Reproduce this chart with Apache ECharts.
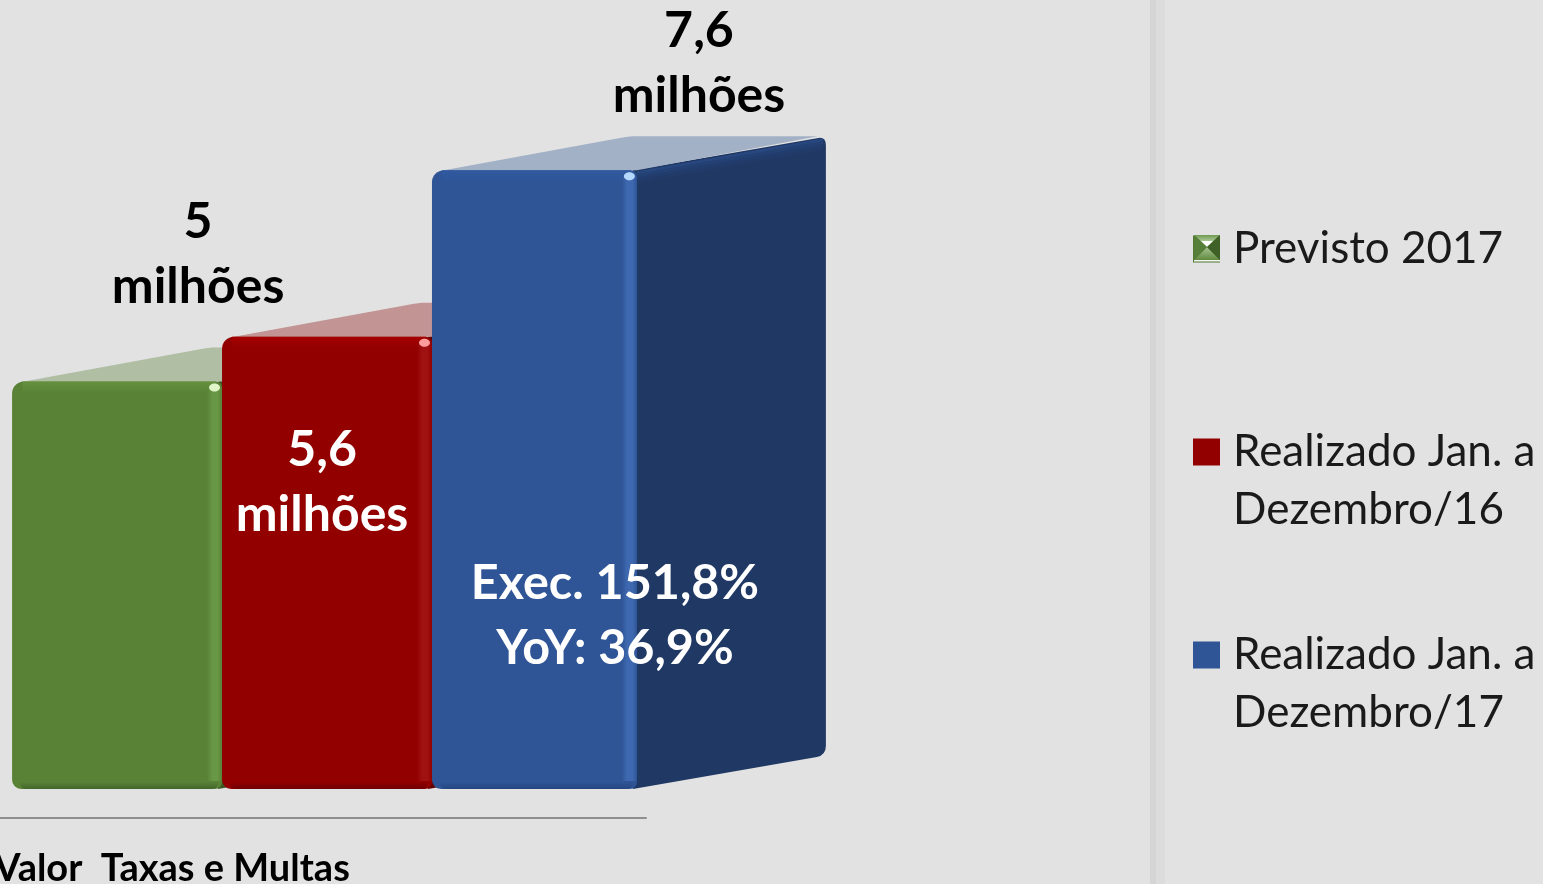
<!DOCTYPE html>
<html><head><meta charset="utf-8">
<style>html,body{margin:0;padding:0;background:#e2e2e2;overflow:hidden}#c{width:1543px;height:884px}</style>
<script src="https://cdn.jsdelivr.net/npm/echarts@6/dist/echarts.min.js"></script>
</head><body><div id="c"></div>
<script>
const categories = ['Valor  Taxas e Multas'];
const seriesNames = ['Previsto 2017', 'Realizado Jan. a\nDezembro/16', 'Realizado Jan. a\nDezembro/17'];
const previsto2017 = [5];
const realizado2016 = [5.55];
const realizado2017 = [7.6];
const valueLabels = ['5\nmilhões', '5,6\nmilhões', '7,6\nmilhões'];
const execLabel = 'Exec. 151,8%\nYoY: 36,9%';

const FONT = 'Lato, "Open Sans", sans-serif';
const palette = [
  {front:'#5a8237', strip:'#689745', edge:'#63903e', top:'#b0bea4', side:'#3c5724', glow:'#e0f5c8', foot:'#44652a'},
  {front:'#920000', strip:'#a01212', edge:'#a60000', top:'#c29494', side:'#600000', glow:'#ff9c9c', foot:'#700000'},
  {front:'#2f5597', strip:'#3e69b0', edge:'#3059a0', top:'#a3b1c6', side:'#203864', glow:'#b5d8ff', foot:'#264680'}
];
const DX = 189, DY = -34;

function vGrad(a, b) {
  return {type:'linear', x:0, y:0, x2:0, y2:1, colorStops:[{offset:0, color:a}, {offset:1, color:b}]};
}
function hGrad(a, b) {
  return {type:'linear', x:0, y:0, x2:1, y2:0, colorStops:[{offset:0, color:a}, {offset:0.35, color:b}, {offset:0.7, color:b}, {offset:1, color:a}]};
}
function roundedSide(x0, y0t, x1, y1t, y1b, x0b) {
  const r = 9;
  return 'M' + x0 + ' ' + y0t +
    'L' + (x1 - r) + ' ' + (y1t + 2) +
    'Q' + x1 + ' ' + y1t + ' ' + x1 + ' ' + (y1t + r) +
    'L' + x1 + ' ' + (y1b - r) +
    'Q' + x1 + ' ' + y1b + ' ' + (x1 - r) + ' ' + (y1b + 2) +
    'L' + x0b + ' ' + (y1b + 34) + 'Z';
}

function makeRender(idx) {
  return function (params, api) {
    const topPt = api.coord([0, api.value(1)]);
    const zero = api.coord([0, 0]);
    const band = api.size([1, 0])[0];
    const w = band * 0.325;
    const widths = [w, w, w * 0.976];
    const left = band / 2 + 4 + (idx - 1.5) * w;
    const right = left + widths[idx];
    const yT = topPt[1] - 1, yB = zero[1];
    const c = palette[idx];
    const children = [];
    children.push({type:'path', shape:{pathData: roundedSide(right - 4, yT, right + DX, yT + DY, yB + DY, right - 4)}, style:{fill:c.side}});
    [[1, 4, 0.5], [4, 7, 0.32], [7, 10, 0.18], [10, 13, 0.08]].forEach(function (b) {
      children.push({type:'polygon', shape:{points:[[right, yT + b[0]], [right + DX - 3, yT + DY + 1 + b[0]], [right + DX - 3, yT + DY + 1 + b[1]], [right, yT + b[1]]]},
        style:{fill:c.front, opacity:b[2]}});
    });
    children.push({type:'polygon', shape:{points:[[left + 12, yT], [left + 192, yT + DY + 1], [left + 200, yT + DY], [right + DX - 8, yT + DY], [right, yT]]}, style:{fill:c.top}});
    children.push({type:'rect', shape:{x:left, y:yT, width:widths[idx], height:yB - yT, r:[12, 6, 7, 9]}, style:{fill:c.front}});
    children.push({type:'rect', shape:{x:left + 10, y:yT, width:widths[idx] - 16, height:12}, style:{fill:vGrad(c.edge, c.front)}});
    children.push({type:'rect', shape:{x:left + 8, y:yB - 7, width:widths[idx] - 12, height:7, r:[0, 0, 6, 6]}, style:{fill:vGrad(c.front, c.foot)}});
    children.push({type:'rect', shape:{x:right - 15, y:yT + 6, width:15, height:yB - yT - 14}, style:{fill:hGrad(c.front, c.strip)}});
    children.push({type:'ellipse', shape:{cx:right - 7.5, cy:yT + 6, rx:5.5, ry:4}, style:{fill:c.glow}});
    const textBase = {fontFamily:FONT, fontWeight:'bold', fontSize:50, lineHeight:65, align:'center', verticalAlign:'middle'};
    const placements = [
      {x:left + 186, y:yT - 127, fill:'#000'},
      {x:left + 100, y:yT + 146, fill:'#fff'},
      {x:left + 267, y:yT - 107, fill:'#000'}
    ];
    children.push({type:'text', style:Object.assign({}, textBase, {text:valueLabels[idx], x:placements[idx].x, y:placements[idx].y, fill:placements[idx].fill})});
    if (idx === 2) {
      children.push({type:'text', style:Object.assign({}, textBase, {text:execLabel, fontSize:48.5, x:left + 183, y:yT + 446, fill:'#fff'})});
    }
    return {type:'group', children:children};
  };
}

const seriesData = [previsto2017, realizado2016, realizado2017];
const series = seriesData.map(function (vals, i) {
  return {
    type:'custom', name:seriesNames[i], renderItem:makeRender(i), clip:false, silent:true,
    itemStyle:{color:palette[i].front},
    encode:{x:0, y:1},
    data:vals.map(function (v, k) { return [k, v]; })
  };
});

function legendFor(i, top) {
  const twoLine = seriesNames[i].indexOf('\n') >= 0;
  return {
    show:true, left:1193, top:top, orient:'vertical', padding:0, selectedMode:false,
    itemWidth:27, itemHeight:27, icon:'rect',
    formatter:function (n) { return twoLine ? '\n' + n : n; },
    data:[{name:seriesNames[i], itemStyle:{color:i === 0 ? '#4f7a30' : palette[i].front},
      textStyle:{fontFamily:FONT, fontSize:44, lineHeight:58, color:'#1a1a1a', padding:[0, 0, 0, 8]}}]
  };
}

function iconPiece(points, fill) {
  return {type:'polygon', silent:true, z:20, shape:{points:points}, style:{fill:fill}};
}
const iconBevel = [
  iconPiece([[1194,235],[1220,235],[1207,247]], vGrad('#6f9a50', '#e4f2d6')),
  iconPiece([[1201,241],[1213,241],[1207,247]], '#ffffff'),
  iconPiece([[1194,260],[1220,260],[1207,247]], vGrad('#a9c495', '#5f8a3c')),
  iconPiece([[1194,235],[1207,247],[1194,260]], '#56803a'),
  iconPiece([[1220,235],[1207,247],[1220,260]], '#3f6128'),
  {type:'rect', silent:true, z:20, shape:{x:1194, y:260, width:26, height:1.5}, style:{fill:'#f4f4f4'}}
];

const chart = echarts.init(document.getElementById('c'), null, {renderer:'canvas'});
chart.setOption({
  animation:false,
  backgroundColor:'#e2e2e2',
  grid:{left:0, top:0, width:646, bottom:66, containLabel:false, outerBoundsMode:'none'},
  xAxis:{type:'category', data:categories, axisTick:{show:false},
    axisLine:{show:true, onZero:false, lineStyle:{color:'#8f8f8f', width:2}},
    axisLabel:{show:true, interval:0, color:'#000', fontFamily:FONT, fontWeight:'bold', fontSize:38, margin:32, padding:[0, 302, 0, 0]}},
  yAxis:{type:'value', show:false, min:-0.357, max:9.705, splitLine:{show:false}},
  legend:[legendFor(0, 220), legendFor(1, 365), legendFor(2, 568)],
  graphic:[
    {type:'rect', silent:true, shape:{x:1150, y:0, width:6, height:884}, style:{fill:'#d5d5d5'}},
    {type:'rect', silent:true, shape:{x:1156, y:0, width:9, height:884}, style:{fill:'#dcdcdc'}}
  ].concat(iconBevel),
  series:series
});
</script></body></html>
